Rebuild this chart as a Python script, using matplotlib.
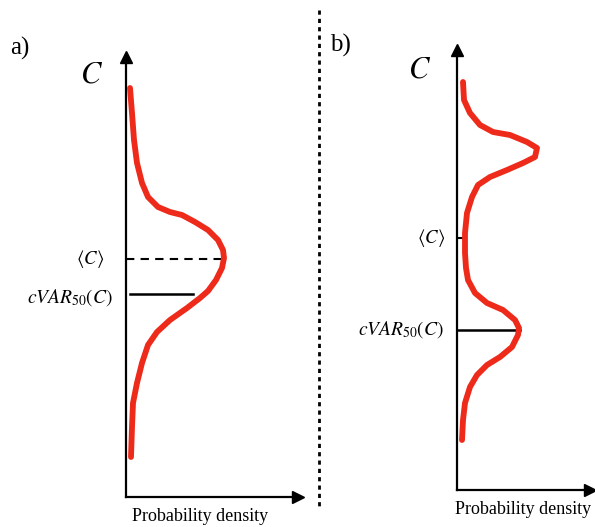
import matplotlib.pyplot as plt
from matplotlib.lines import Line2D

plt.rcParams['font.family'] = ['Liberation Serif', 'DejaVu Serif']
plt.rcParams['mathtext.fontset'] = 'stix'

# panel a: single peak (density, C)
a_density = [4, 6, 8, 11, 16, 22, 32, 44, 56, 69, 82, 92, 97, 98, 96, 90, 82, 74, 61, 44, 31, 22, 16, 11, 7, 6, 5]
a_C = [409, 384, 357, 334, 314, 300, 290, 285, 282, 275, 267, 257, 247, 239, 229, 217, 206, 199, 189, 177,
       165, 152, 134, 114, 94, 70, 40]
a_mean = 238
a_mean_len = 98
a_cvar = 203
a_cvar_span = [4, 67]

# panel b: two peaks
b_density = [6, 7, 13, 23, 36, 53, 70, 80, 78, 66, 50, 33, 21, 15, 10, 8, 8, 9, 11, 18, 30, 46, 58, 62, 61,
             55, 43, 30, 20, 13, 8, 6, 5]
b_C = [408, 390, 377, 365, 358, 355, 348, 342, 333, 327, 320, 313, 305, 293, 277, 257, 237, 222, 210, 197,
       187, 180, 170, 162, 155, 143, 133, 125, 115, 103, 87, 70, 50]
b_mean = 252
b_mean_len = 13
b_cvar = 160
b_cvar_span = [0, 63]

W, H = 595, 527
fig = plt.figure(figsize=(W / 100, H / 100), dpi=100)

red = '#ee2a1a'


def setup(ax, xmax, ymax):
    ax.set_xlim(0, xmax)
    ax.set_ylim(0, ymax)
    for s in ['top', 'right']:
        ax.spines[s].set_visible(False)
    for s in ['left', 'bottom']:
        ax.spines[s].set_linewidth(1.6)
    ax.set_xticks([])
    ax.set_yticks([])
    ax.patch.set_alpha(0)
    ax.plot(1, 0, '>k', ms=8, transform=ax.transAxes, clip_on=False)
    ax.plot(0, 1, '^k', ms=8, transform=ax.transAxes, clip_on=False)


def curve(ax, x, y):
    ax.plot(x, y, color=red, lw=4.2, solid_capstyle='round', solid_joinstyle='round', zorder=3)


# panel a
axa = fig.add_axes([126 / W, 30 / H, 172 / W, 440 / H])
setup(axa, 172, 440)
curve(axa, a_density, a_C)
axa.plot([0, a_mean_len], [a_mean, a_mean], 'k--', lw=1.5, dashes=(4, 3))
axa.plot(a_cvar_span, [a_cvar, a_cvar], 'k-', lw=1.8)
axa.text(-22, a_mean, r'$\langle C\rangle$', ha='right', va='center', fontsize=13.5)
axa.text(-13, a_cvar - 4, r'$cVAR_{50}(C)$', ha='right', va='center', fontsize=14)
axa.text(-34, 422, r'$C$', ha='center', va='center', fontsize=22)
axa.text(0.43, -0.045, 'Probability density', transform=axa.transAxes, ha='center', va='center', fontsize=13)

# panel b
axb = fig.add_axes([457 / W, 37 / H, 133 / W, 440 / H])
setup(axb, 133, 440)
curve(axb, b_density, b_C)
axb.plot([0, b_mean_len], [b_mean, b_mean], 'k--', lw=1.5, dashes=(4, 3))
axb.plot(b_cvar_span, [b_cvar, b_cvar], 'k-', lw=1.8)
axb.text(-12, b_mean, r'$\langle C\rangle$', ha='right', va='center', fontsize=13.5)
axb.text(-13, b_cvar, r'$cVAR_{50}(C)$', ha='right', va='center', fontsize=14)
axb.text(-37, 420, r'$C$', ha='center', va='center', fontsize=22)
axb.text(0.5, -0.045, 'Probability density', transform=axb.transAxes, ha='center', va='center', fontsize=13)

fig.text(10 / W, 1 - 48 / H, 'a)', fontsize=18, va='center')
fig.text(330 / W, 1 - 45 / H, 'b)', fontsize=18, va='center')
fig.add_artist(Line2D([319 / W, 319 / W], [1 - 10 / H, 1 - 508 / H], color='k', lw=2,
                      linestyle=(0, (1.5, 1.5))))

fig.savefig('out.png', dpi=100)
